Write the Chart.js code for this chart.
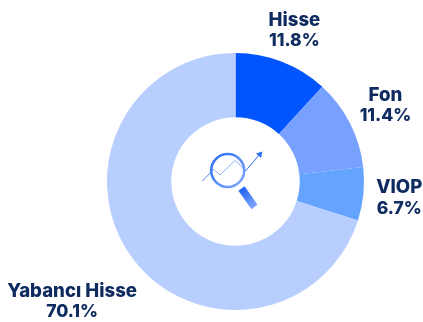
<!DOCTYPE html>
<html>
<head>
<meta charset="utf-8">
<style>
  html, body { margin: 0; padding: 0; background: #fff; }
  #wrap { width: 423px; height: 322px; }
</style>
<script src="https://cdn.jsdelivr.net/npm/chart.js@4"></script>
</head>
<body>
<div id="wrap"><canvas id="fund-chart" width="423" height="322"></canvas></div>
<script>
const categories = ['Hisse', 'Fon', 'VIOP', 'Yabancı Hisse']
const shares = [11.8, 11.4, 6.7, 70.1]
const sliceColors = ['#0055ff', '#77a0ff', '#64a4ff', '#b7ceff']
// how far each label sits from the centre, as a multiple of the outer radius
const labelDistance = [1.265, 1.31, 1.28, 1.575]

// Labels sit outside the ring, so draw them after the arcs
const outsideLabels = {
    id: 'outsideLabels',
    afterDatasetsDraw(chart) {
        let ctx = chart.ctx
        ctx.save()
        ctx.fillStyle = '#0f2b60'
        ctx.textAlign = 'center'
        ctx.textBaseline = 'middle'
        chart.getDatasetMeta(0).data.forEach(function(arc, i) {
            let mid = (arc.startAngle + arc.endAngle) / 2
            let r = arc.outerRadius * labelDistance[i]
            let x = arc.x + Math.cos(mid) * r
            let y = arc.y + Math.sin(mid) * r
            ctx.font = '800 18.6px Inter, sans-serif'
            ctx.fillText(categories[i], x, y - 10)
            ctx.font = '800 17.5px Inter, sans-serif'
            ctx.fillText(shares[i].toFixed(1) + '%', x, y + 11)
        })
        ctx.restore()
    }
}

// Magnifying glass over a small trend line in the hole of the doughnut
const centerIcon = {
    id: 'centerIcon',
    afterDatasetsDraw(chart) {
        let arc = chart.getDatasetMeta(0).data[0]
        let ctx = chart.ctx
        ctx.save()
        ctx.translate(arc.x, arc.y)
        ctx.lineCap = 'round'
        ctx.lineJoin = 'round'

        ctx.strokeStyle = '#4f86f7'
        ctx.lineWidth = 1
        ctx.beginPath()
        ctx.moveTo(-33, -0.5)
        ctx.lineTo(-22, -12)
        ctx.stroke()

        ctx.strokeStyle = '#8fb0fb'
        ctx.beginPath()
        ctx.moveTo(-22, -12)
        ctx.lineTo(-15.5, -6.5)
        ctx.lineTo(-0.5, -21)
        ctx.lineTo(10.5, -11)
        ctx.stroke()

        ctx.strokeStyle = '#2f6ff5'
        ctx.beginPath()
        ctx.moveTo(10.5, -11)
        ctx.lineTo(24, -27)
        ctx.stroke()

        ctx.fillStyle = '#2f6ff5'
        ctx.beginPath()
        ctx.moveTo(27, -30)
        ctx.lineTo(20.5, -28)
        ctx.lineTo(25.5, -23.5)
        ctx.closePath()
        ctx.fill()

        let ring = ctx.createLinearGradient(-24, -28, 8, 4)
        ring.addColorStop(0, '#2a6bf5')
        ring.addColorStop(1, '#7fa8fb')
        ctx.strokeStyle = ring
        ctx.lineWidth = 2.6
        ctx.beginPath()
        ctx.arc(-7.8, -11, 16.5, 0, Math.PI * 2)
        ctx.stroke()

        let handle = ctx.createLinearGradient(6, 7, 19, 25)
        handle.addColorStop(0, '#1f5ff2')
        handle.addColorStop(1, '#7fa8fb')
        ctx.strokeStyle = handle
        ctx.lineWidth = 7.5
        ctx.lineCap = 'butt'
        ctx.beginPath()
        ctx.moveTo(6, 7)
        ctx.lineTo(19, 25.5)
        ctx.stroke()

        ctx.restore()
    }
}

let chartCanvas = document.querySelector('#fund-chart')
let ctx = chartCanvas.getContext('2d')

let fundChart = new Chart(ctx, {
    type: 'doughnut',
    data: {
        labels: categories,
        datasets: [
            {
                data: shares,
                backgroundColor: sliceColors,
                borderWidth: 0
            }
        ]
    },
    options: {
        responsive: false,
        animation: false,
        cutout: '50%',
        layout: { padding: { left: 107, right: 59, top: 53, bottom: 12 } },
        plugins: {
            legend: { display: false },
            tooltip: { enabled: false }
        }
    },
    plugins: [outsideLabels, centerIcon]
})
</script>
</body>
</html>
